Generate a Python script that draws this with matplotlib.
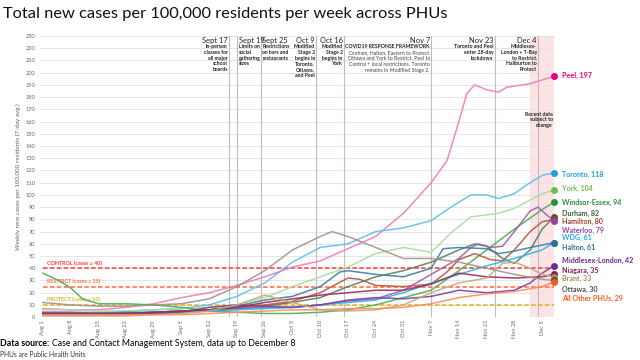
import matplotlib
matplotlib.use("Agg")
import matplotlib.pyplot as plt
import pandas as pd

plt.rcParams['font.family'] = ['Lato', 'DejaVu Sans']

start = pd.Timestamp('2020-08-01')

# days since Aug 1 and weekly cases per 100k (7-day avg)
peel_d = [0, 7, 14, 21, 28, 35, 42, 49, 56, 63, 70, 77, 84, 91, 98, 102, 105, 107, 109, 112, 115, 117, 123, 126, 129]
peel_v = [7, 6, 6, 8, 11, 16, 20, 26, 33, 41, 46, 56, 66, 85, 110, 128, 160, 183, 190, 186, 184, 188, 191, 194, 197]
toronto_d = [0, 7, 14, 21, 28, 35, 42, 49, 56, 63, 70, 77, 84, 91, 98, 103, 108, 112, 115, 119, 122, 126, 129]
toronto_v = [4, 4, 4, 5, 6, 7, 10, 17, 28, 45, 57, 60, 70, 73, 79, 90, 100, 100, 97, 101, 108, 116, 118]
york_d = [0, 7, 14, 21, 28, 35, 42, 49, 56, 63, 70, 77, 84, 91, 98, 103, 108, 115, 119, 126, 129]
york_v = [6, 6, 5, 5, 6, 7, 8, 10, 16, 25, 33, 41, 52, 57, 53, 69, 82, 85, 89, 101, 104]
windsor_d = [0, 4, 7, 10, 14, 21, 28, 35, 42, 49, 56, 63, 70, 77, 84, 91, 98, 105, 112, 119, 126, 129]
windsor_v = [36, 30, 24, 15, 11, 11, 10, 8, 5, 4, 3, 3, 4, 6, 10, 16, 22, 38, 55, 72, 88, 94]
durham_d = [0, 7, 14, 21, 28, 35, 42, 49, 56, 63, 70, 77, 84, 91, 98, 105, 109, 112, 116, 119, 123, 126, 129]
durham_v = [3, 3, 3, 3, 3, 4, 5, 7, 9, 12, 16, 25, 33, 38, 45, 55, 60, 58, 48, 44, 55, 72, 82]
hamilton_d = [0, 7, 14, 21, 28, 35, 42, 49, 56, 63, 70, 77, 80, 84, 91, 98, 102, 105, 109, 113, 116, 119, 123, 126, 129]
hamilton_v = [3, 3, 3, 3, 4, 5, 6, 8, 10, 13, 20, 32, 31, 26, 25, 27, 37, 47, 52, 47, 46, 55, 70, 78, 80]
waterloo_d = [0, 7, 14, 21, 28, 35, 42, 49, 56, 63, 70, 77, 84, 91, 98, 105, 108, 110, 113, 116, 119, 123, 125, 127, 129]
waterloo_v = [4, 4, 3, 3, 4, 5, 6, 7, 8, 8, 10, 13, 15, 22, 35, 48, 57, 60, 57, 58, 70, 87, 90, 84, 79]
wdg_d = [0, 7, 14, 21, 28, 35, 42, 49, 56, 63, 70, 77, 84, 91, 98, 105, 112, 119, 126, 129]
wdg_v = [2, 2, 2, 2, 3, 4, 5, 6, 7, 8, 10, 12, 14, 20, 28, 35, 42, 48, 55, 61]
halton_d = [0, 7, 14, 21, 28, 35, 42, 49, 56, 63, 70, 75, 77, 84, 91, 98, 101, 105, 112, 115, 119, 123, 126, 129]
halton_v = [3, 3, 3, 4, 4, 5, 6, 9, 14, 17, 25, 37, 38, 35, 33, 40, 56, 57, 56, 52, 54, 57, 59, 61]
middlesex_d = [0, 7, 14, 21, 28, 35, 42, 49, 56, 63, 70, 77, 84, 91, 98, 105, 112, 119, 123, 126, 129]
middlesex_v = [2, 2, 2, 2, 3, 4, 8, 10, 9, 8, 10, 14, 16, 15, 17, 22, 20, 22, 28, 36, 42]
niagara_d = [0, 7, 14, 21, 28, 35, 42, 49, 56, 63, 70, 77, 84, 91, 98, 105, 112, 119, 126, 129]
niagara_v = [3, 3, 3, 3, 4, 5, 6, 8, 12, 15, 18, 20, 22, 22, 27, 36, 33, 32, 33, 35]
brant_d = [0, 7, 14, 21, 28, 35, 42, 49, 56, 63, 70, 77, 84, 91, 98, 105, 112, 116, 119, 123, 126, 129]
brant_v = [1, 1, 1, 1, 2, 3, 5, 10, 18, 12, 6, 5, 6, 10, 20, 28, 32, 44, 45, 40, 35, 33]
ottawa_d = [0, 7, 14, 21, 28, 35, 42, 49, 56, 63, 70, 73, 77, 84, 91, 98, 105, 112, 119, 126, 129]
ottawa_v = [12, 10, 9, 9, 10, 11, 15, 25, 38, 55, 66, 70, 66, 57, 48, 48, 45, 40, 35, 31, 30]
other_d = [0, 7, 14, 21, 28, 35, 42, 49, 56, 63, 70, 77, 84, 91, 98, 105, 112, 119, 126, 129]
other_v = [2, 2, 2, 2, 2, 2, 3, 4, 5, 6, 6, 7, 7, 8, 11, 16, 19, 21, 25, 29]

names = ['Peel', 'Toronto', 'York', 'Windsor-Essex', 'Durham', 'Hamilton', 'Waterloo',
         'WDG', 'Halton', 'Middlesex-London', 'Niagara', 'Brant', 'Ottawa', 'All Other PHUs']
days = [peel_d, toronto_d, york_d, windsor_d, durham_d, hamilton_d, waterloo_d,
        wdg_d, halton_d, middlesex_d, niagara_d, brant_d, ottawa_d, other_d]
values = [peel_v, toronto_v, york_v, windsor_v, durham_v, hamilton_v, waterloo_v,
          wdg_v, halton_v, middlesex_v, niagara_v, brant_v, ottawa_v, other_v]
label_y = [198, 117, 105, 94, 85, 78, 71, 65, 57, 46, 38.5, 32, 23, 15]

line_colors = ['#f27bb9', '#5bc0eb', '#a8dca0', '#4caf50', '#5a7f5a', '#b5563c', '#a45ab0',
               '#29b6e8', '#3a7fa0', '#7b3f9e', '#9c2a5a', '#c4ab7e', '#a0948a', '#ff8a5c']
label_colors = ['#e6007e', '#1fa0d8', '#6cc04a', '#2e8b3a', '#3d5c3d', '#a0412d', '#9b3fb0',
                '#1eb0e8', '#2c6f8f', '#6a2c91', '#8a1c50', '#a68b5b', '#4d4d4d', '#ff5a1f']

# events: (day, date label, text, align side)
events = [
    (47, 'Sept 17', 'In-person\nclasses for\nall major\nschool\nboards', 'right'),
    (49, 'Sept 19', 'Limits on\nsocial\ngathering\nsizes', 'left'),
    (55, 'Sept 25', 'Restrictions\non bars and\nrestaurants', 'left'),
    (69, 'Oct 9', 'Modified\nStage 2\nbegins in\nToronto,\nOttawa,\nand Peel', 'right'),
    (76, 'Oct 16', 'Modified\nStage 2\nbegins in\nYork', 'right'),
    (98, 'Nov 7', None, 'right'),
    (114, 'Nov 23', 'Toronto and Peel\nenter 28-day\nlockdown', 'right'),
    (125, 'Dec 4', 'Middlesex-\nLondon + T-Bay\nto Restrict.\nHaliburton to\nProtect', 'right'),
]
nov7_body = ('Durham, Halton, Eastern to Protect.\nOttawa and York to Restrict. Peel to\n'
             'Control + local restrictions. Toronto\nremains in Modified Stage 2.')

thresholds = [40, 25, 10]
threshold_labels = ['CONTROL (cases \u2265 40)', 'RESTRICT (cases \u2265 25)', 'PROTECT (cases \u2265 10)']
threshold_colors = ['#ff3b3b', '#ff6a3a', '#e0b020']

tick_days = list(range(0, 127, 7))


def to_date(d_list):
    return [start + pd.Timedelta(days=d) for d in d_list]


fig = plt.figure(figsize=(6.4, 3.6), dpi=100)
ax = fig.add_axes([0.0625, 0.119, 0.805, 0.781])

end_day = 129
ax.set_xlim(start + pd.Timedelta(days=-0.7), start + pd.Timedelta(days=end_day + 0.3))
ax.set_ylim(0, 230)

ax.set_yticks(range(0, 231, 10))
ax.grid(axis='y', color='#e6e6e6', lw=0.7)
ax.set_axisbelow(True)
for s in ax.spines.values():
    s.set_visible(False)
ax.tick_params(axis='both', length=0, labelsize=4.1, labelcolor='#666666')
ax.set_xticks(to_date(tick_days))
ax.set_xticklabels([(start + pd.Timedelta(days=d)).strftime('%b %-d') for d in tick_days], rotation=90)
ax.tick_params(axis='x', pad=2)
ax.set_ylabel('Weekly new cases per 100,000 residents (7-day avg.)', fontsize=4.5, color='#666666', labelpad=3)

# recent data shading
ax.axvspan(start + pd.Timedelta(days=123), start + pd.Timedelta(days=end_day),
           color='#fde3e5', zorder=0, lw=0)
ax.text(start + pd.Timedelta(days=end_day - 0.3), 168, 'Recent data\nsubject to\nchange',
        ha='right', va='top', fontsize=3.8, fontweight='bold', linespacing=1.15, color='#222222')

# event lines and notes
for d, lab, body, side in events:
    x = start + pd.Timedelta(days=d)
    ax.axvline(x, color='#bdbdbd', lw=0.8, zorder=1)
    off = pd.Timedelta(days=-0.3) if side == 'right' else pd.Timedelta(days=0.4)
    ax.text(x + off, 229.5, lab, ha=side, va='top', fontsize=5.4, color='#222222')
    if body:
        ax.text(x + off, 223.5, body, ha=side, va='top', fontsize=3.7, fontweight='bold',
                linespacing=1.2, color='#222222', multialignment=side)
x7 = start + pd.Timedelta(days=98 - 0.3)
ax.text(x7, 223.5, 'COVID19 RESPONSE FRAMEWORK', ha='right', va='top', fontsize=3.7,
        fontweight='bold', color='#222222')
ax.text(x7, 218, nov7_body, ha='right', va='top', fontsize=3.7, linespacing=1.2,
        color='#444444', multialignment='right')

# thresholds
for t, tl, tc in zip(thresholds, threshold_labels, threshold_colors):
    ax.plot([start, start + pd.Timedelta(days=end_day)], [t, t], ls=(0, (3, 1.5)), lw=1.1, color=tc, zorder=2)
    ax.text(start + pd.Timedelta(days=1), t + 2, tl, fontsize=3.9, fontweight='bold', color=tc, va='bottom')

# series
for n, d, v, lc, tc, ly in zip(names, days, values, line_colors, label_colors, label_y):
    xs = to_date(d)
    ax.plot(xs, v, color=lc, lw=1.1, alpha=0.9, zorder=3)
    ax.plot(xs[-1], v[-1], 'o', ms=4, color=tc, zorder=4, clip_on=False)
    ax.text(start + pd.Timedelta(days=end_day + 2), ly, f'{n}, {v[-1]}', fontsize=5.1, fontweight='bold',
            color=tc, va='center', ha='left', clip_on=False)

fig.text(0.005, 0.96, 'Total new cases per 100,000 residents per week across PHUs', fontsize=11.8,
         va='center', ha='left', color='#111111')
src = fig.text(0.0, 0.046, 'Data source:', fontsize=6.3, fontweight='bold', va='center', ha='left')
fig.canvas.draw()
bb = src.get_window_extent()
fig.text((bb.x1 + 3) / fig.bbox.width, 0.046, 'Case and Contact Management System, data up to December 8',
         fontsize=6.3, va='center', ha='left')
fig.text(0.0, 0.016, 'PHUs are Public Health Units', fontsize=4.8, va='center', ha='left', color='#333333')

fig.savefig('out.png', dpi=100)
